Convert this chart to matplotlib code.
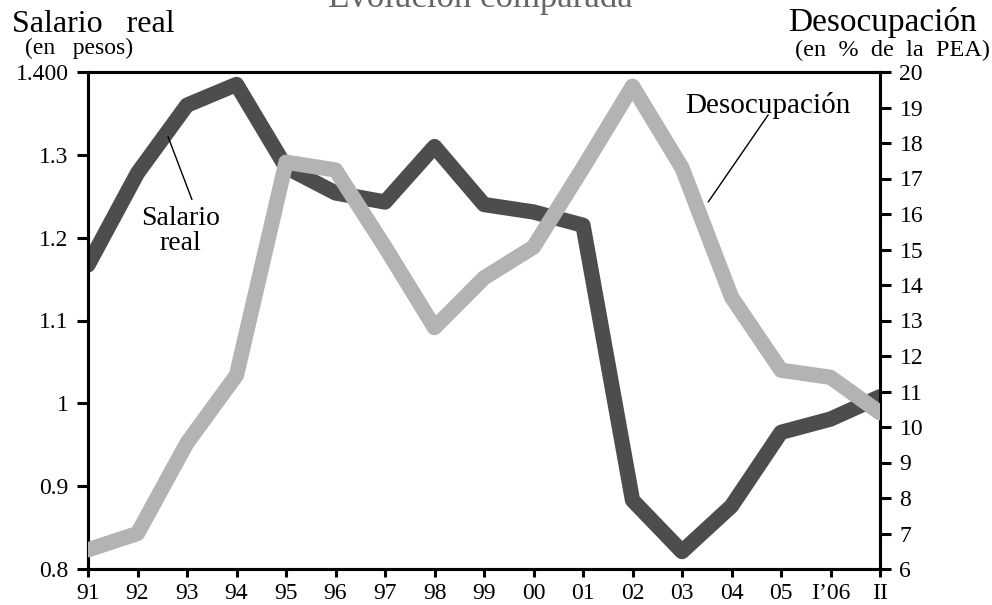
import matplotlib
matplotlib.use('Agg')
import matplotlib.pyplot as plt
import numpy as np

plt.rcParams['font.family'] = ['Liberation Serif', 'DejaVu Serif']

years = ['91', '92', '93', '94', '95', '96', '97', '98', '99', '00',
         '01', '02', '03', '04', '05', 'I\u201906', 'II']
salario = [1.167, 1.278, 1.360, 1.385, 1.285, 1.254, 1.243, 1.310, 1.240,
           1.231, 1.215, 0.883, 0.821, 0.876, 0.965, 0.981, 1.008]
desocup = [6.54, 7.0, 9.55, 11.46, 17.46, 17.24, 15.07, 12.8, 14.2,
           15.07, 17.3, 19.6, 17.3, 13.66, 11.6, 11.4, 10.4]

x = np.arange(len(years))

fig = plt.figure(figsize=(9.92, 6.05), dpi=100)
ax = fig.add_axes([88/992, 1-569/605, (880-88)/992, (569-72)/605])
ax2 = ax.twinx()

ax.plot(x, salario, color='#4d4d4d', lw=11, solid_joinstyle='round',
        solid_capstyle='round', zorder=2)
ax2.plot(x, desocup, color='#b3b3b3', lw=11, solid_joinstyle='round',
         solid_capstyle='round', zorder=3)

ax.set_xlim(0, len(years) - 1)
ax.set_ylim(0.8, 1.4)
ax2.set_ylim(6, 20)

ax.set_xticks(x)
ax.set_xticklabels(years)
ax.set_yticks([0.8, 0.9, 1.0, 1.1, 1.2, 1.3, 1.4])
ax.set_yticklabels(['0.8', '0.9', '1', '1.1', '1.2', '1.3', '1.400'])
ax2.set_yticks(range(6, 21))

for a in (ax, ax2):
    for s in a.spines.values():
        s.set_linewidth(2.2)
    a.tick_params(direction='out', length=8, width=2.2, labelsize=17,
                  pad=6)
ax.tick_params(axis='x', length=6, pad=4)

# leader lines and labels
ax.annotate('', xy=(1.616, 1.322), xytext=(2.10, 1.246),
            arrowprops=dict(arrowstyle='-', color='black', lw=1,
                            shrinkA=0, shrinkB=0))
ax.text(1.86, 1.208, 'Salario\nreal', fontsize=20, ha='center',
        va='center', linespacing=1.0, zorder=5)
ax2.annotate('', xy=(12.53, 16.34), xytext=(13.74, 18.79),
             arrowprops=dict(arrowstyle='-', color='black', lw=1,
                             shrinkA=0, shrinkB=0))
ax2.text(13.74, 19.05, 'Desocupación', fontsize=21, ha='center',
         va='center', zorder=5)

# headers
fig.text(12/992, 1-25/605, 'Salario   real', fontsize=23, ha='left',
         va='center')
fig.text(25/992, 1-48/605, '(en   pesos)', fontsize=17, ha='left',
         va='center')
fig.text(977/992, 1-22/605, 'Desocupación', fontsize=24, ha='right',
         va='center')
fig.text(990/992, 1-50/605, '(en  %  de  la  PEA)', fontsize=17.5,
         ha='right', va='center')
fig.text(480/992, 1-7/605, 'Evolución comparada', fontsize=25,
         ha='center', va='baseline', color='#666666')

fig.savefig('out.png', dpi=100)
